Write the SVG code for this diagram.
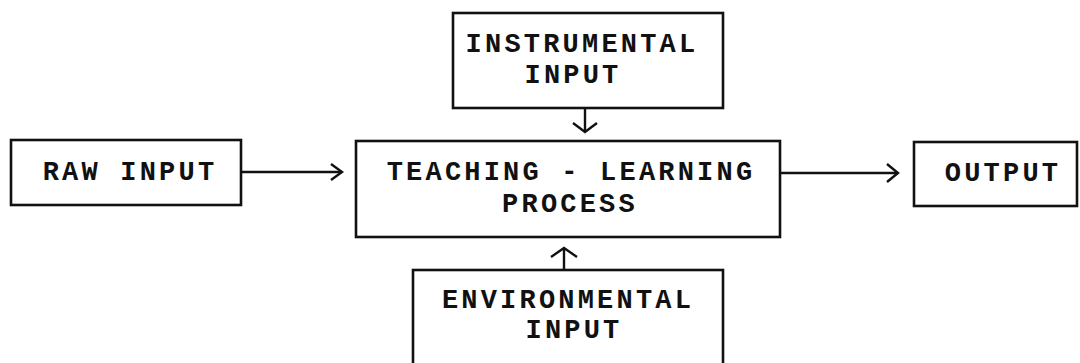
<svg xmlns="http://www.w3.org/2000/svg" width="1080" height="363" viewBox="0 0 1080 363">
  <style>
    .box { fill: #ffffff; stroke: #111111; stroke-width: 2.6; }
    .lbl { font-family: "Liberation Mono", "DejaVu Sans Mono", monospace; font-weight: bold; font-size: 27px; letter-spacing: 3.2px; fill: #111111; text-anchor: middle; }
    .wire { fill: none; stroke: #111111; stroke-width: 2.4; }
    .head { fill: none; stroke: #111111; stroke-width: 2.4; stroke-linejoin: miter; }
  </style>
  <rect width="1080" height="363" fill="#ffffff"/>

  <g id="raw-input">
    <rect class="box" x="11" y="140" width="230" height="65"/>
    <text class="lbl" x="130" y="180">RAW INPUT</text>
  </g>

  <g id="instrumental-input">
    <rect class="box" x="453" y="13" width="270" height="95"/>
    <text class="lbl" x="582" y="52">INSTRUMENTAL</text>
    <text class="lbl" x="573" y="83">INPUT</text>
  </g>

  <g id="teaching-learning-process">
    <rect class="box" x="356" y="141" width="424" height="96"/>
    <text class="lbl" x="571" y="180">TEACHING - LEARNING</text>
    <text class="lbl" x="570" y="212">PROCESS</text>
  </g>

  <g id="output">
    <rect class="box" x="914" y="142" width="163" height="64"/>
    <text class="lbl" x="1003" y="181">OUTPUT</text>
  </g>

  <g id="environmental-input">
    <rect class="box" x="413" y="270" width="310" height="110"/>
    <text class="lbl" x="568" y="308">ENVIRONMENTAL</text>
    <text class="lbl" x="574" y="338">INPUT</text>
  </g>

  <g id="connectors">
    <!-- raw input to process -->
    <line class="wire" x1="241" y1="172" x2="342" y2="172"/>
    <polyline class="head" points="331,164 342,172 331,180"/>
    <!-- process to output -->
    <line class="wire" x1="780" y1="173" x2="898" y2="173"/>
    <polyline class="head" points="887,164 898,173 887,182"/>
    <!-- instrumental input down to process -->
    <line class="wire" x1="585" y1="108" x2="585" y2="132"/>
    <polyline class="head" points="573,123 585,132 597,123"/>
    <!-- environmental input up to process -->
    <line class="wire" x1="564" y1="270" x2="564" y2="248"/>
    <polyline class="head" points="551,257 564,248 577,257"/>
  </g>
</svg>
